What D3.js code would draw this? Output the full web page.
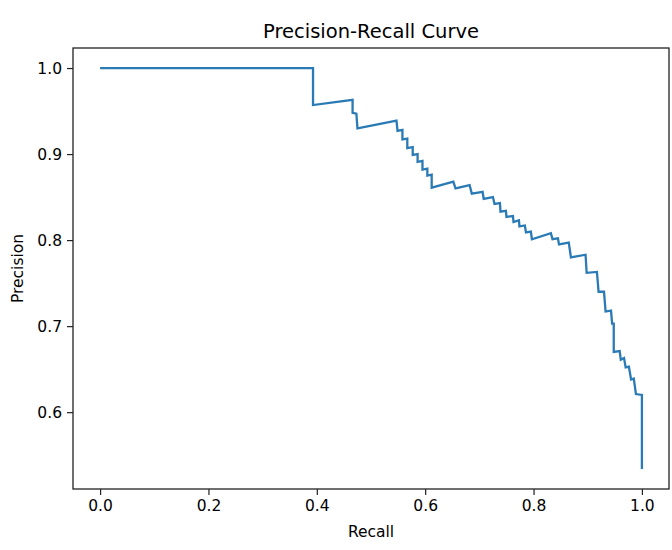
<!DOCTYPE html>
<html>
<head>
<meta charset="utf-8">
<script src="https://cdn.jsdelivr.net/npm/d3@7"></script>
<style>
  body { margin: 0; background: #fff; }
  svg text { font-family: "DejaVu Sans", sans-serif; fill: #000; }
</style>
</head>
<body>
<svg width="672" height="550"></svg>
<script>
// values
var recall = [0, 0.393, 0.393, 0.466, 0.466, 0.473, 0.475, 0.547, 0.549, 0.558,
  0.558, 0.567, 0.567, 0.577, 0.577, 0.586, 0.586, 0.595, 0.595, 0.604,
  0.604, 0.612, 0.612, 0.652, 0.656, 0.682, 0.686, 0.706, 0.708, 0.725,
  0.728, 0.738, 0.739, 0.749, 0.750, 0.762, 0.763, 0.773, 0.774, 0.784,
  0.786, 0.795, 0.797, 0.832, 0.835, 0.845, 0.847, 0.865, 0.869, 0.896,
  0.898, 0.917, 0.920, 0.930, 0.933, 0.943, 0.945, 0.948, 0.948, 0.959,
  0.961, 0.967, 0.970, 0.976, 0.980, 0.985, 0.989, 1.0, 1.0];
var precision = [1.0, 1.0, 0.957, 0.963, 0.948, 0.947, 0.930, 0.939, 0.927, 0.928,
  0.917, 0.918, 0.907, 0.908, 0.899, 0.900, 0.891, 0.892, 0.882, 0.883,
  0.875, 0.876, 0.861, 0.868, 0.860, 0.864, 0.854, 0.856, 0.848, 0.850,
  0.842, 0.843, 0.833, 0.834, 0.827, 0.828, 0.821, 0.823, 0.816, 0.817,
  0.809, 0.810, 0.801, 0.808, 0.801, 0.802, 0.795, 0.797, 0.780, 0.783,
  0.762, 0.763, 0.740, 0.740, 0.717, 0.718, 0.703, 0.703, 0.670, 0.671,
  0.661, 0.663, 0.652, 0.653, 0.638, 0.639, 0.621, 0.620, 0.534];
var xTicks = [0.0, 0.2, 0.4, 0.6, 0.8, 1.0];
var yTicks = [0.6, 0.7, 0.8, 0.9, 1.0];
var title = "Precision-Recall Curve";
var xLabel = "Recall";
var yLabel = "Precision";

var axLeft = 73, axRight = 669, axTop = 48, axBottom = 489;
var tickSize = 15.5;

var points = recall.map((r, i) => { return {'r': r, 'p': precision[i]}; });

// matplotlib style 5% margins
function padded(ext) {
  var m = (ext[1] - ext[0]) * 0.05;
  return [ext[0] - m, ext[1] + m];
}

var xScale = d3.scaleLinear()
  .domain(padded(d3.extent(recall)))
  .range([axLeft, axRight]);

var yScale = d3.scaleLinear()
  .domain(padded(d3.extent(precision)))
  .range([axBottom, axTop]);

var svg = d3.select("svg");

var lineGenerator = d3.line()
  .x(d => xScale(d.r))
  .y(d => yScale(d.p));

svg.append("path")
  .attr("d", lineGenerator(points))
  .attr("fill", "none")
  .attr("stroke", "#2a7ab5")
  .attr("stroke-width", 2.3)
  .attr("stroke-linejoin", "miter");

var xAxis = d3.axisBottom(xScale)
  .tickValues(xTicks)
  .tickFormat(d3.format(".1f"))
  .tickSize(6)
  .tickPadding(5)
  .tickSizeOuter(0);

var yAxis = d3.axisLeft(yScale)
  .tickValues(yTicks)
  .tickFormat(d3.format(".1f"))
  .tickSize(6)
  .tickPadding(5)
  .tickSizeOuter(0);

var gx = svg.append("g")
  .attr("transform", `translate(0, ${axBottom})`)
  .call(xAxis);

var gy = svg.append("g")
  .attr("transform", `translate(${axLeft}, 0)`)
  .call(yAxis);

[gx, gy].forEach(g => {
  g.select(".domain").remove();
  g.selectAll(".tick line").attr("stroke", "#222").attr("stroke-width", 1.2);
  g.selectAll(".tick text")
    .attr("font-family", "DejaVu Sans")
    .attr("font-size", tickSize)
    .attr("fill", "#222");
});

// axes frame
svg.append("rect")
  .attr("x", axLeft)
  .attr("y", axTop)
  .attr("width", axRight - axLeft)
  .attr("height", axBottom - axTop)
  .attr("fill", "none")
  .attr("stroke", "#222")
  .attr("stroke-width", 1.3);

svg.append("text")
  .attr("x", (axLeft + axRight) / 2)
  .attr("y", axTop - 10)
  .attr("text-anchor", "middle")
  .attr("font-size", 19.5)
  .attr("fill", "#222")
  .text(title);

svg.append("text")
  .attr("x", (axLeft + axRight) / 2)
  .attr("y", 537)
  .attr("text-anchor", "middle")
  .attr("font-size", tickSize)
  .attr("fill", "#222")
  .text(xLabel);

svg.append("text")
  .attr("transform", `translate(23, ${(axTop + axBottom) / 2}) rotate(-90)`)
  .attr("text-anchor", "middle")
  .attr("font-size", tickSize)
  .attr("fill", "#222")
  .text(yLabel);
</script>
</body>
</html>
